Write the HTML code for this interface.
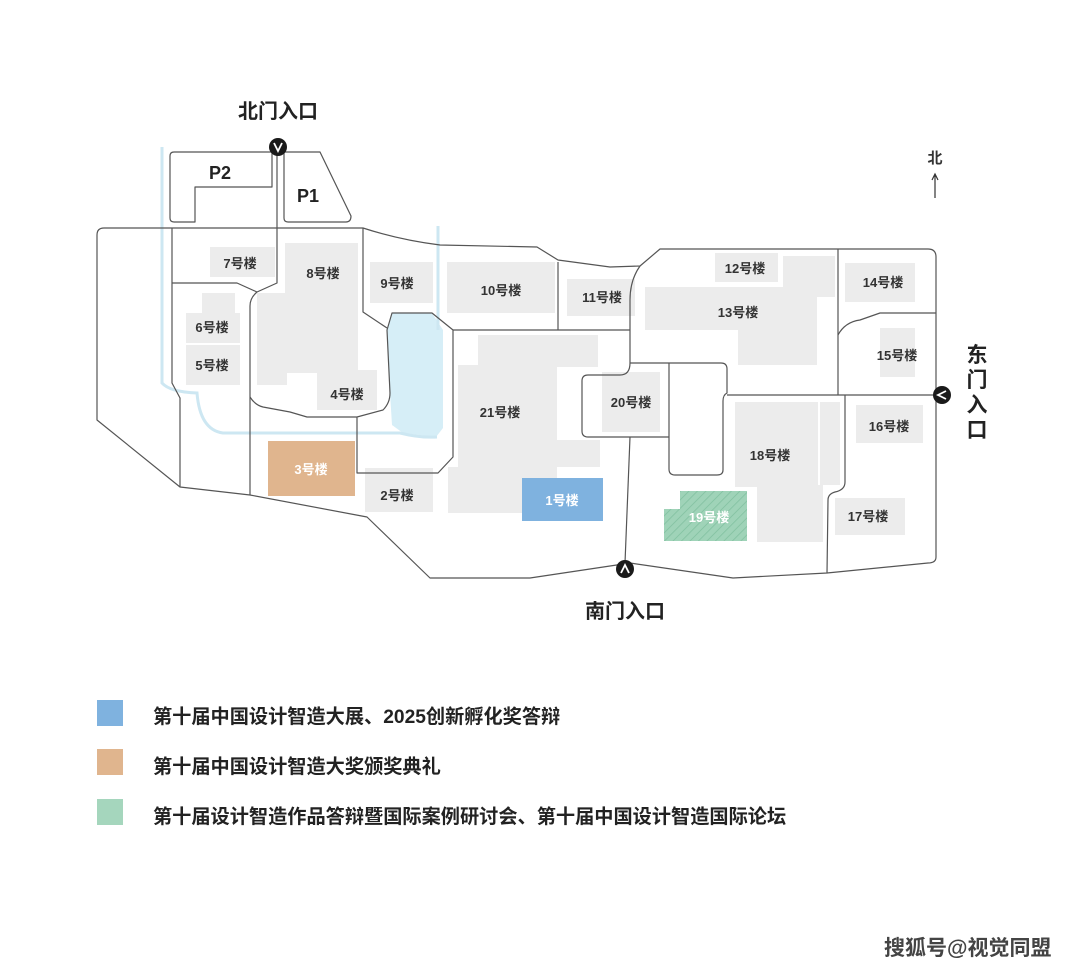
<!DOCTYPE html>
<html><head><meta charset="utf-8"><style>
body{margin:0;background:#fff;width:1080px;height:971px;overflow:hidden;font-family:"Liberation Sans","Noto Sans CJK SC",sans-serif;}
svg{position:absolute;left:0;top:0}
.lg{position:absolute;left:97px;width:26px;height:26px}
.lt{position:absolute;left:153px;font-size:19.2px;color:#222;font-weight:bold;white-space:nowrap}
</style></head><body>
<svg width="1080" height="971" viewBox="0 0 1080 971" font-family="Liberation Sans, Noto Sans CJK SC, sans-serif">
<defs>
<pattern id="h" width="6" height="6" patternUnits="userSpaceOnUse" patternTransform="rotate(45)"><rect width="6" height="6" fill="#9fd3b8"/><line x1="0" y1="0" x2="0" y2="6" stroke="#7fbf9e" stroke-width="1.5"/></pattern>
</defs>
<path d="M392,313 L432,313 L443,330 L443,428 L436,437 L403,433 L392,425 L390,393 L387,330 Z" fill="#d6eef7"/>
<path d="M162,147 L162,383 Q170,392 197,393 Q200,430 223,433 L400,433 Q420,438 437,437" fill="none" stroke="#cde7f2" stroke-width="3"/>
<path d="M438,226 L438,330" fill="none" stroke="#cde7f2" stroke-width="3"/>
<g fill="#ececec">
<rect x="210" y="247" width="65" height="30"/>
<rect x="285" y="243" width="73" height="130"/><rect x="257" y="293" width="30" height="92"/>
<rect x="317" y="370" width="60" height="40"/>
<rect x="202" y="293" width="33" height="20"/><rect x="186" y="313" width="54" height="30"/><rect x="186" y="345" width="54" height="40"/>
<rect x="370" y="262" width="63" height="41"/>
<rect x="365" y="468" width="68" height="44"/>
<rect x="447" y="262" width="108" height="51"/>
<rect x="567" y="279" width="68" height="37"/>
<rect x="715" y="253" width="63" height="29"/>
<rect x="645" y="287" width="172" height="43"/><rect x="783" y="256" width="52" height="41"/><rect x="738" y="330" width="79" height="35"/>
<rect x="845" y="263" width="70" height="39"/>
<rect x="880" y="328" width="35" height="49"/>
<rect x="856" y="405" width="67" height="38"/>
<rect x="835" y="498" width="70" height="37"/>
<rect x="735" y="402" width="83" height="85"/><rect x="820" y="402" width="20" height="83"/><rect x="757" y="485" width="66" height="57"/>
<rect x="602" y="372" width="58" height="60"/>
<rect x="478" y="335" width="120" height="32"/><rect x="458" y="365" width="99" height="148"/><rect x="557" y="440" width="43" height="27"/><rect x="448" y="467" width="72" height="46"/>
</g>
<rect x="268" y="441" width="87" height="55" fill="#e0b58e"/>
<rect x="522" y="478" width="81" height="43" fill="#7fb2df"/>
<path d="M680,491 L747,491 L747,541 L664,541 L664,509 L680,509 Z" fill="url(#h)"/>
<g fill="none" stroke="#555" stroke-width="1.2" stroke-linejoin="round">
<path d="M174,152 L272,152 L272,187 L195,187 L195,222 L174,222 Q170,222 170,218 L170,156 Q170,152 174,152 Z"/>
<path d="M284,152 L320,152 L351,216 Q351,222 346,222 L288,222 Q284,222 284,218 Z"/>
<path d="M104,228 L363,228 Q400,240 440,245 L537,247 L558,260 L610,267 L640,266 L660,249 L928,249 Q936,249 936,257 L936,557 Q936,563 928,563 L827,573 L733,578 L630,563 L530,578 L430,578 L367,517 L250,495 L180,487 L97,420 L97,235 Q97,228 104,228 Z"/>
<path d="M277,152 L277,283 L257,292 Q250,298 250,306 L250,495"/>
<path d="M172,228 L172,383 L180,398 L180,487"/>
<path d="M172,283 L237,283 L257,292"/>
<path d="M250,397 Q255,405 263,407 L290,412 L307,417 L357,417 L383,410 Q390,403 390,393 L387,330 L392,313 L432,313 L453,330 L453,457 L438,473 L357,473 L357,417"/>
<path d="M363,228 L363,312 L387,328"/>
<path d="M453,330 L630,330"/>
<path d="M558,262 L558,330"/>
<path d="M640,266 Q630,280 630,300 L630,363 Q630,375 620,375 L588,375 Q582,375 582,381 L582,431 Q582,437 588,437 L669,437"/>
<path d="M669,363 L721,363 Q727,363 727,369 L727,393 Q723,395 723,401 L723,470 Q723,475 717,475 L675,475 Q669,475 669,469 L669,363"/>
<path d="M630,363 L669,363"/>
<path d="M727,395 L936,395"/>
<path d="M630,437 L625,563"/>
<path d="M838,249 L838,395"/>
<path d="M838,335 Q845,322 860,320 L880,313 L936,313"/>
<path d="M845,395 L845,482 Q845,490 835,492 Q828,494 828,500 L827,573"/>
</g>
<g><circle cx="278" cy="147" r="9" fill="#1a1a1a"/><path d="M274,143 L278,151 L282,143" stroke="#fff" stroke-width="1.8" fill="none"/>
<circle cx="625" cy="569" r="9" fill="#1a1a1a"/><path d="M621,573 L625,565 L629,573" stroke="#fff" stroke-width="1.8" fill="none"/>
<circle cx="942" cy="395" r="9" fill="#1a1a1a"/><path d="M946,391 L938,395 L946,399" stroke="#fff" stroke-width="1.8" fill="none"/></g>
<g font-weight="bold" fill="#222" font-size="20">
<text x="278" y="118" text-anchor="middle">北门入口</text>
<text x="625" y="618" text-anchor="middle">南门入口</text>
<text x="977" y="362" text-anchor="middle" font-size="21">东</text><text x="977" y="387" text-anchor="middle" font-size="21">门</text><text x="977" y="412" text-anchor="middle" font-size="21">入</text><text x="977" y="437" text-anchor="middle" font-size="21">口</text>
<text x="209" y="179" font-size="18">P2</text><text x="297" y="202" font-size="18">P1</text>
</g>
<text x="935" y="163" text-anchor="middle" font-size="15" font-weight="bold" fill="#333">北</text>
<path d="M935,198 L935,175 M932,180 L935,174 L938,180" stroke="#333" stroke-width="1.2" fill="none"/>
<g font-size="13" font-weight="bold" fill="#333" text-anchor="middle">
<text x="240" y="268">7号楼</text><text x="323" y="278">8号楼</text><text x="212" y="332">6号楼</text><text x="212" y="370">5号楼</text>
<text x="347" y="399">4号楼</text><text x="397" y="288">9号楼</text><text x="397" y="500">2号楼</text>
<text x="501" y="295">10号楼</text><text x="602" y="302">11号楼</text><text x="745" y="273">12号楼</text><text x="738" y="317">13号楼</text>
<text x="883" y="287">14号楼</text><text x="897" y="360">15号楼</text><text x="889" y="431">16号楼</text><text x="868" y="521">17号楼</text>
<text x="770" y="460">18号楼</text><text x="631" y="407">20号楼</text><text x="500" y="417">21号楼</text>
<text x="311" y="474" fill="#fff">3号楼</text><text x="562" y="505" fill="#fff">1号楼</text><text x="709" y="522" fill="#fff">19号楼</text>
</g>
</svg>
<div class="lg" style="top:700px;background:#7fb2df"></div><div class="lt" style="top:701px">第十届中国设计智造大展、2025创新孵化奖答辩</div>
<div class="lg" style="top:749px;background:#e0b58e"></div><div class="lt" style="top:751px">第十届中国设计智造大奖颁奖典礼</div>
<div class="lg" style="top:799px;background:#a5d6bd"></div><div class="lt" style="top:801px">第十届设计智造作品答辩暨国际案例研讨会、第十届中国设计智造国际论坛</div>
<div style="position:absolute;left:884px;top:932px;font-size:21px;color:#444;font-weight:bold;white-space:nowrap">搜狐号@视觉同盟</div>
</body></html>
